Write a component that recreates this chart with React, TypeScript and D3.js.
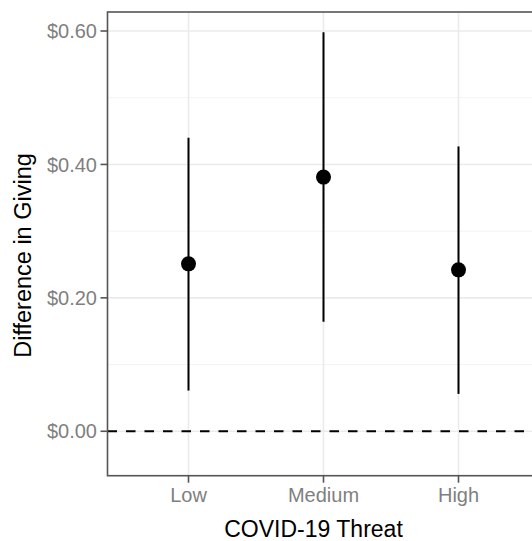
import * as d3 from "d3";

const WIDTH = 532;
const HEIGHT = 541;
const PANEL = { left: 107.5, top: 12, right: 539.5, bottom: 475.7 };

const categories = ["Low", "Medium", "High"];
const estimates = [0.251, 0.381, 0.242];
const lower = [0.061, 0.164, 0.056];
const upper = [0.44, 0.598, 0.427];
const yTicks = [0, 0.2, 0.4, 0.6];
const yMinorTicks = [0.1, 0.3, 0.5];

const TICK_COLOR = "#7f7f7f";
const FONT = "Liberation Sans, Arial, Helvetica, sans-serif";

export default function App() {
  const xScale = d3
    .scalePoint<string>()
    .domain(categories)
    .range([PANEL.left, PANEL.right])
    .padding(0.6);

  const yScale = d3
    .scaleLinear()
    .domain([-0.0666, 0.6285])
    .range([PANEL.bottom, PANEL.top]);

  const fmt = (v: number) => "$" + d3.format(".2f")(v);

  return (
    <svg
      width={WIDTH}
      height={HEIGHT}
      style={{ position: "absolute", left: 0, top: 0, background: "#fff" }}
      fontFamily={FONT}
    >
      {/* minor grid */}
      {yMinorTicks.map((t) => (
        <line
          key={"m" + t}
          x1={PANEL.left}
          x2={PANEL.right}
          y1={yScale(t)}
          y2={yScale(t)}
          stroke="#f3f3f3"
          strokeWidth={1}
        />
      ))}
      {/* major grid */}
      {yTicks.map((t) => (
        <line
          key={"g" + t}
          x1={PANEL.left}
          x2={PANEL.right}
          y1={yScale(t)}
          y2={yScale(t)}
          stroke="#ebebeb"
          strokeWidth={1.6}
        />
      ))}
      {categories.map((c) => (
        <line
          key={"gx" + c}
          x1={xScale(c)}
          x2={xScale(c)}
          y1={PANEL.top}
          y2={PANEL.bottom}
          stroke="#ebebeb"
          strokeWidth={1.6}
        />
      ))}

      {/* zero reference */}
      <line
        x1={PANEL.left}
        x2={PANEL.right}
        y1={yScale(0)}
        y2={yScale(0)}
        stroke="#000"
        strokeWidth={2}
        strokeDasharray="9.5,9"
      />

      {/* error bars and points */}
      {categories.map((c, i) => (
        <g key={c}>
          <line
            x1={xScale(c)}
            x2={xScale(c)}
            y1={yScale(lower[i])}
            y2={yScale(upper[i])}
            stroke="#000"
            strokeWidth={2}
          />
          <circle cx={xScale(c)} cy={yScale(estimates[i])} r={7.5} fill="#000" />
        </g>
      ))}

      {/* panel border */}
      <rect
        x={PANEL.left}
        y={PANEL.top}
        width={PANEL.right - PANEL.left}
        height={PANEL.bottom - PANEL.top}
        fill="none"
        stroke="#555"
        strokeWidth={1.6}
      />

      {/* y axis */}
      {yTicks.map((t) => (
        <g key={"yt" + t} transform={`translate(0,${yScale(t)})`}>
          <line x1={PANEL.left - 7} x2={PANEL.left} stroke="#555" strokeWidth={1.6} />
          <text
            x={PANEL.left - 10.5}
            dy="0.36em"
            textAnchor="end"
            fontSize={20}
            fill={TICK_COLOR}
          >
            {fmt(t)}
          </text>
        </g>
      ))}

      {/* x axis */}
      {categories.map((c) => (
        <g key={"xt" + c} transform={`translate(${xScale(c)},${PANEL.bottom})`}>
          <line y1={0} y2={7} stroke="#555" strokeWidth={1.6} />
          <text y={26} textAnchor="middle" fontSize={20} fill={TICK_COLOR}>
            {c}
          </text>
        </g>
      ))}

      {/* axis titles */}
      <text x={313.5} y={536.5} textAnchor="middle" fontSize={23} fill="#000">
        COVID-19 Threat
      </text>
      <text
        transform={`translate(31,255.5) rotate(-90)`}
        textAnchor="middle"
        fontSize={23.5}
        fill="#000"
      >
        Difference in Giving
      </text>
    </svg>
  );
}
